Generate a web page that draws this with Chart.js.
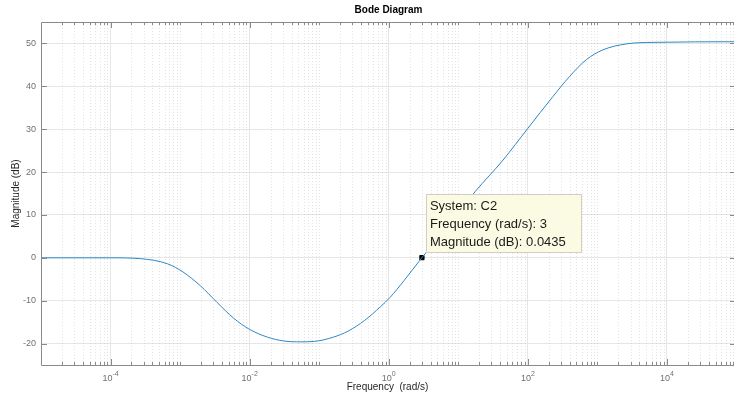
<!DOCTYPE html>
<html lang="en">
<head>
<meta charset="UTF-8">
<title>Bode Diagram</title>
<script src="https://cdn.jsdelivr.net/npm/chart.js@4"></script>
<style>
  html, body { margin: 0; padding: 0; background: #fff; }
  canvas { display: block; }
</style>
</head>
<body>
<canvas id="bode" width="734" height="396"></canvas>
<script>
// Magnitude curve of C2 (frequency in rad/s, magnitude in dB)
const freq = [1e-5, 1e-4, 2.7e-4, 6.6e-4, 1.1e-3, 1.95e-3, 3.4e-3, 5.9e-3, 0.01, 0.018, 0.031, 0.054,
  0.085, 0.16, 0.26, 0.45, 0.76, 1.05, 1.66, 3, 10, 17.4, 44, 100, 229, 398, 692, 1200, 2630, 6300, 1e5];
const magDb = [0, 0, -0.2, -1.4, -3.3, -6.5, -10.4, -14.1, -16.7, -18.5, -19.4, -19.6,
  -19.5, -18.5, -17.1, -14.6, -11.4, -9.2, -5.3, 0.04, 10.4, 15.4, 22.8, 30.2, 37.6, 42.3, 46.2, 48.5, 49.9, 50.25, 50.4];

// Axis ticks
const xTicks = [1e-4, 1e-2, 1, 1e2, 1e4];
const xTickExp = ['-4', '-2', '0', '2', '4'];
const yTicks = [-20, -10, 0, 10, 20, 30, 40, 50];

// Data tip
const tipSystem = 'C2';
const tipFreq = 3;
const tipMag = 0.0435;

const FONT = "'Liberation Sans', Arial, sans-serif";
const AXIS_COLOR = '#8a8a8a';
const TICK_TEXT = '#707070';

// minor grid positions: 2..9 of every decade plus the unlabelled decades
function minorValues(min, max) {
  const out = [];
  for (let k = -6; k <= 5; k++) {
    for (let m = 1; m <= 9; m++) {
      if (m === 1 && k % 2 === 0) continue;
      const v = m * Math.pow(10, k);
      if (v > min && v < max) out.push(v);
    }
  }
  return out;
}

const matlabAxes = {
  id: 'matlabAxes',
  beforeDatasetsDraw(chart) {
    const { ctx, chartArea: a, scales: { x } } = chart;
    ctx.save();
    ctx.strokeStyle = 'rgba(175,175,175,0.35)';
    ctx.lineWidth = 1;
    ctx.setLineDash([1, 2]);
    minorValues(x.min, x.max).forEach((v) => {
      const px = Math.round(x.getPixelForValue(v)) + 0.5;
      ctx.beginPath();
      ctx.moveTo(px, a.top);
      ctx.lineTo(px, a.bottom);
      ctx.stroke();
    });
    ctx.restore();
  },
  afterDatasetsDraw(chart) {
    const { ctx, chartArea: a, scales: { x, y } } = chart;
    ctx.save();
    ctx.strokeStyle = AXIS_COLOR;
    ctx.lineWidth = 1;

    // box: left, bottom, top
    ctx.beginPath();
    ctx.moveTo(a.left + 0.5, a.top + 0.5);
    ctx.lineTo(a.left + 0.5, a.bottom + 0.5);
    ctx.lineTo(a.right, a.bottom + 0.5);
    ctx.moveTo(a.left + 0.5, a.top + 0.5);
    ctx.lineTo(a.right, a.top + 0.5);
    ctx.stroke();

    // inward tick marks
    ctx.beginPath();
    xTicks.forEach((v) => {
      const px = Math.round(x.getPixelForValue(v)) + 0.5;
      ctx.moveTo(px, a.bottom); ctx.lineTo(px, a.bottom - 6);
      ctx.moveTo(px, a.top); ctx.lineTo(px, a.top + 6);
    });
    minorValues(x.min, x.max).forEach((v) => {
      const px = Math.round(x.getPixelForValue(v)) + 0.5;
      ctx.moveTo(px, a.bottom); ctx.lineTo(px, a.bottom - 3);
      ctx.moveTo(px, a.top); ctx.lineTo(px, a.top + 3);
    });
    yTicks.forEach((v) => {
      const py = Math.round(y.getPixelForValue(v)) + 0.5;
      ctx.moveTo(a.left, py); ctx.lineTo(a.left + 6, py);
      ctx.moveTo(a.right + 1, py); ctx.lineTo(a.right - 4, py);
    });
    ctx.stroke();

    // x tick labels as 10 with a raised exponent
    ctx.fillStyle = TICK_TEXT;
    ctx.textBaseline = 'alphabetic';
    xTicks.forEach((v, i) => {
      const px = x.getPixelForValue(v);
      ctx.font = `9px ${FONT}`;
      const wb = ctx.measureText('10').width;
      ctx.font = `7px ${FONT}`;
      const we = ctx.measureText(xTickExp[i]).width;
      const left = px - (wb + we) / 2;
      ctx.font = `9px ${FONT}`;
      ctx.textAlign = 'left';
      ctx.fillText('10', left, a.bottom + 16);
      ctx.font = `7px ${FONT}`;
      ctx.fillText(xTickExp[i], left + wb, a.bottom + 11);
    });

    // title
    ctx.fillStyle = '#000';
    ctx.font = `bold 10px ${FONT}`;
    ctx.textAlign = 'center';
    ctx.textBaseline = 'middle';
    ctx.fillText('Bode Diagram', (a.left + a.right) / 2 + 1, 10);

    // data tip box
    const mx = x.getPixelForValue(tipFreq);
    const my = y.getPixelForValue(tipMag);
    const bx = Math.round(mx + 4) + 0.5;
    const by = Math.round(my - 64) + 0.5;
    ctx.fillStyle = '#fbfbe3';
    ctx.strokeStyle = '#cfcfc4';
    ctx.fillRect(bx, by, 155, 58);
    ctx.strokeRect(bx, by, 155, 58);
    ctx.fillStyle = '#1a1a1a';
    ctx.font = `13px ${FONT}`;
    ctx.textAlign = 'left';
    ctx.textBaseline = 'middle';
    ctx.fillText(`System: ${tipSystem}`, mx + 8, my - 51);
    ctx.fillText(`Frequency (rad/s): ${tipFreq}`, mx + 8, my - 33);
    ctx.fillText(`Magnitude (dB): ${tipMag}`, mx + 8, my - 15);
    ctx.restore();
  }
};

const curve = freq.map((f, i) => ({ x: f, y: magDb[i] }));

new Chart(document.getElementById('bode'), {
  type: 'line',
  data: {
    datasets: [
      {
        data: curve,
        borderColor: 'rgb(45,135,198)',
        borderWidth: 1,
        pointRadius: 0,
        cubicInterpolationMode: 'monotone',
        fill: false
      },
      {
        data: [{ x: tipFreq, y: tipMag }],
        showLine: false,
        pointStyle: 'rect',
        pointRadius: 3,
        pointBackgroundColor: '#000',
        pointBorderColor: '#000',
        pointBorderWidth: 1
      }
    ]
  },
  options: {
    responsive: false,
    animation: false,
    devicePixelRatio: 1,
    layout: { autoPadding: false, padding: { top: 22, right: 0, bottom: 0, left: 0 } },
    plugins: {
      legend: { display: false },
      tooltip: { enabled: false },
      title: { display: false }
    },
    scales: {
      x: {
        type: 'logarithmic',
        min: 1e-5,
        max: 9.2e4,
        afterBuildTicks: (s) => { s.ticks = xTicks.map((v) => ({ value: v })); },
        afterFit: (s) => { s.height = 31; s.paddingLeft = 0; s.paddingRight = 0; },
        ticks: { display: false },
        grid: { color: '#e6e6e6', drawTicks: false },
        border: { display: false },
        title: {
          display: true,
          text: 'Frequency  (rad/s)',
          color: '#262626',
          font: { family: FONT, size: 10 },
          padding: { top: 0, bottom: 3 }
        }
      },
      y: {
        min: -25,
        max: 55,
        afterBuildTicks: (s) => { s.ticks = yTicks.map((v) => ({ value: v })); },
        afterFit: (s) => { s.width = 41; },
        ticks: { color: TICK_TEXT, font: { family: FONT, size: 9 }, padding: 5 },
        grid: { color: '#e6e6e6', drawTicks: false },
        border: { display: false },
        title: {
          display: true,
          text: 'Magnitude (dB)',
          color: '#262626',
          font: { family: FONT, size: 10 },
          padding: { top: 10, bottom: 0 }
        }
      }
    }
  },
  plugins: [matlabAxes]
});
</script>
</body>
</html>
